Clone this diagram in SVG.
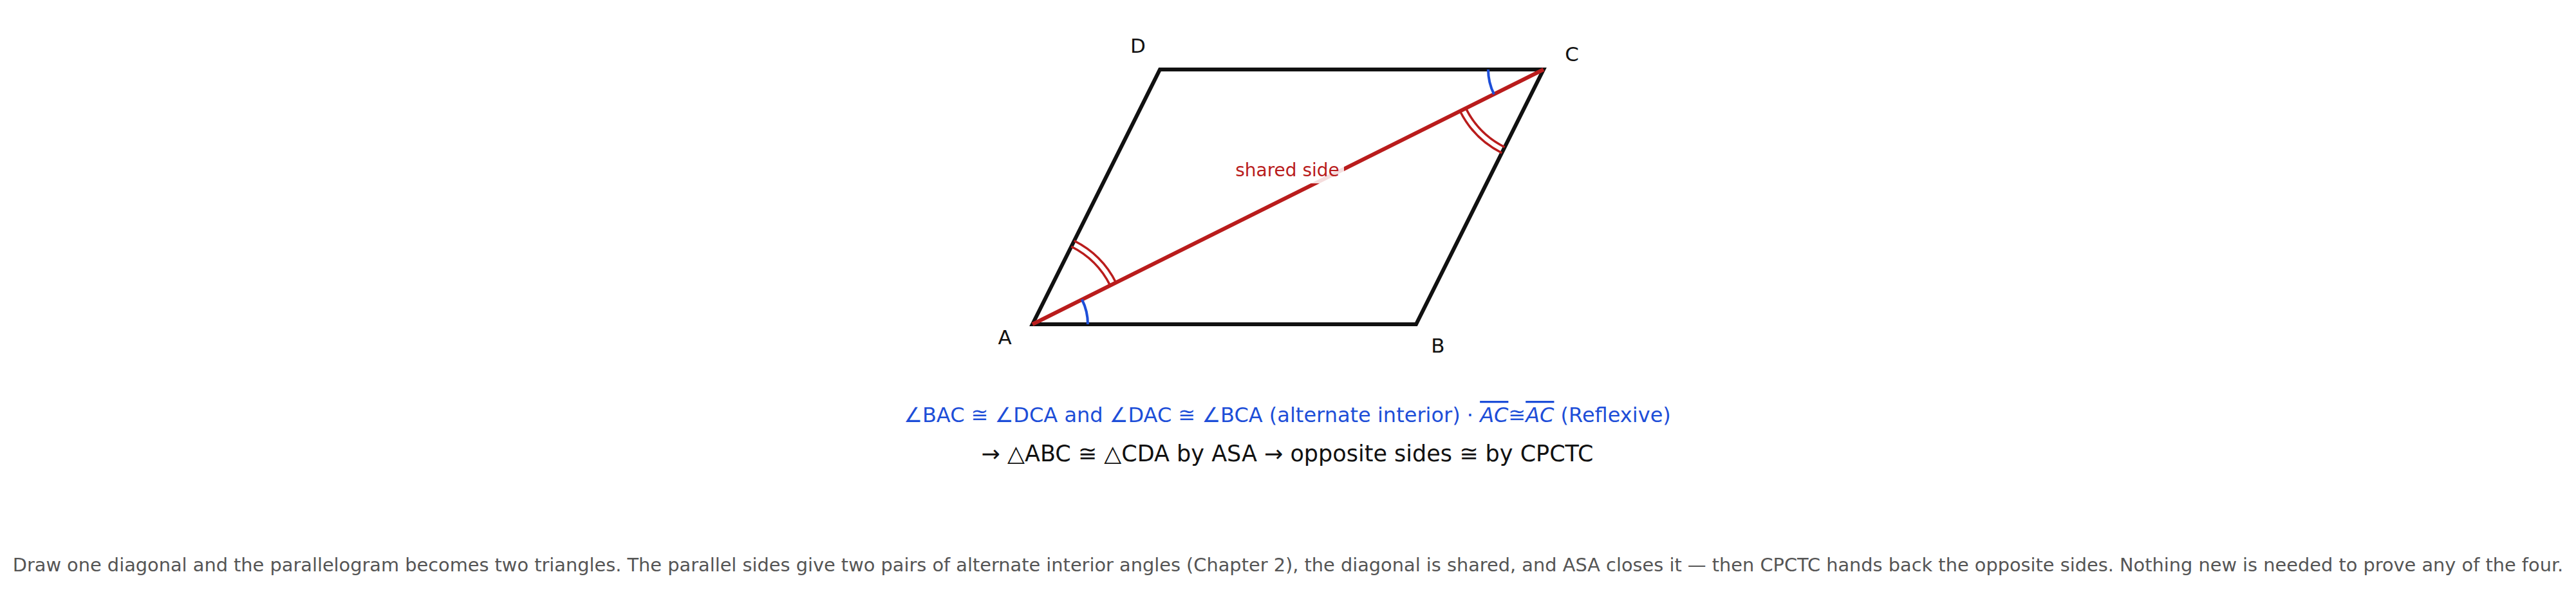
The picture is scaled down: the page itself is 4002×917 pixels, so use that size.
<svg xmlns="http://www.w3.org/2000/svg" width="4002" height="917" viewBox="0 0 4002 917">
<style>
.lbl{font-family:"DejaVu Sans",sans-serif;font-size:31px;fill:#111}
.side{fill:none;stroke:#111;stroke-width:6;stroke-linejoin:miter}
.diag{stroke:#b91c1c;stroke-width:6;stroke-linecap:butt}
.blue{fill:none;stroke:#1d4ed8;stroke-width:4}
.red2{fill:none;stroke:#b91c1c;stroke-width:3.5}
.t1{font-family:"DejaVu Sans",sans-serif;font-size:32px;fill:#1d4ed8}
.t2{font-family:"DejaVu Sans",sans-serif;font-size:35px;fill:#111}
.foot{font-family:"DejaVu Sans",sans-serif;font-size:28.8px;fill:#555}
</style>
<rect width="4002" height="917" fill="#fff"/>
<g id="parallelogram">
<polygon points="1604,504 2200,504 2398,108 1802,108" fill="#f5f9fd" class="side"/>
</g>
<g id="connectors">
<line id="diagonal-AC" x1="1604" y1="504" x2="2398" y2="108" class="diag"/>
</g>
<g id="angle-marks">
<path class="blue" d="M1690,504 A86,86 0 0 0 1680.9,465.5"/>
<path class="blue" d="M2312,108 A86,86 0 0 0 2321.1,146.5"/>
<path class="red2" d="M1724.7,443.6 A135,135 0 0 0 1664.4,383.3"/>
<path class="red2" d="M1733.7,439.2 A145,145 0 0 0 1668.8,374.3"/>
<path class="red2" d="M2277.3,168.4 A135,135 0 0 0 2337.6,228.7"/>
<path class="red2" d="M2268.3,172.8 A145,145 0 0 0 2333.2,237.7"/>
</g>
<g id="shared-label">
<rect x="1913" y="248" width="175" height="37" fill="#fff" fill-opacity="0.85"/>
<text x="2000" y="274" text-anchor="middle" font-family="DejaVu Sans, sans-serif" font-size="28" fill="#b91c1c">shared side</text>
</g>
<g id="vertex-A"><text class="lbl" x="1561" y="535" text-anchor="middle">A</text></g>
<g id="vertex-B"><text class="lbl" x="2234" y="548" text-anchor="middle">B</text></g>
<g id="vertex-C"><text class="lbl" x="2442" y="95" text-anchor="middle">C</text></g>
<g id="vertex-D"><text class="lbl" x="1768" y="82" text-anchor="middle">D</text></g>
<g id="reasoning">
<text class="t1" x="2000" y="656" text-anchor="middle">∠BAC ≅ ∠DCA and ∠DAC ≅ ∠BCA (alternate interior) · <tspan font-style="italic" text-decoration="overline">AC</tspan>≅<tspan font-style="italic" text-decoration="overline">AC</tspan> (Reflexive)</text>
<text class="t2" x="2000" y="717" text-anchor="middle">→ △ABC ≅ △CDA by ASA → opposite sides ≅ by CPCTC</text>
</g>
<g id="caption">
<text class="foot" x="2001" y="888" text-anchor="middle">Draw one diagonal and the parallelogram becomes two triangles. The parallel sides give two pairs of alternate interior angles (Chapter 2), the diagonal is shared, and ASA closes it — then CPCTC hands back the opposite sides. Nothing new is needed to prove any of the four.</text>
</g>
</svg>
